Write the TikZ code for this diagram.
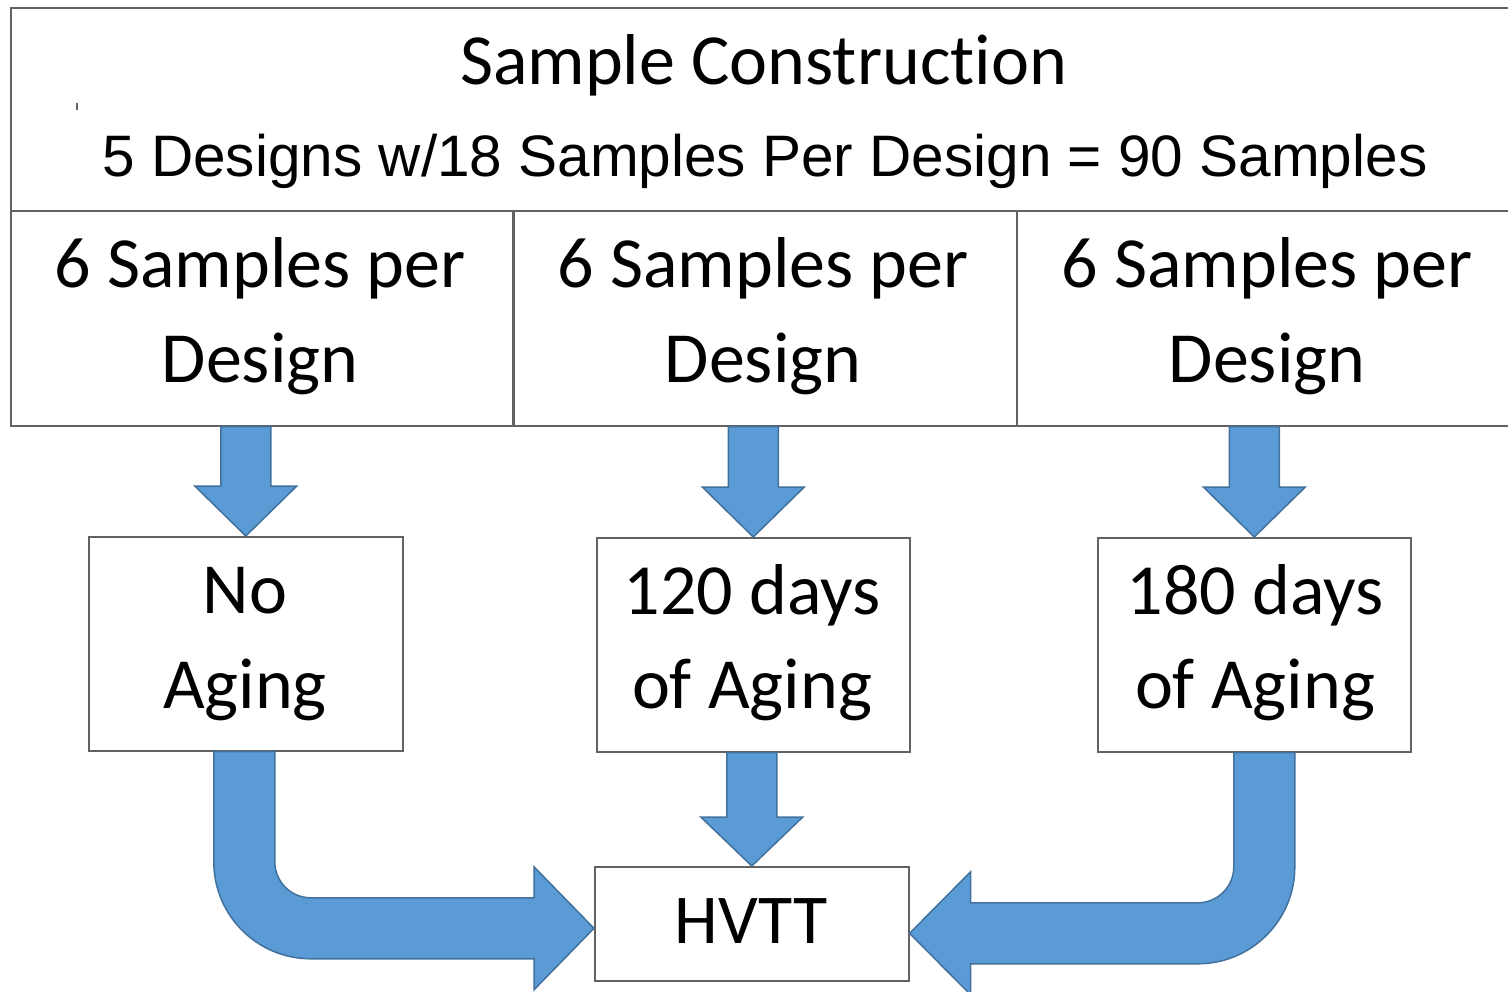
\documentclass[tikz,border=0pt]{standalone}
\usepackage{fontspec}
\setmainfont[Ligatures=NoCommon]{Carlito}
\newfontfamily\arialfont{Liberation Sans}
\usetikzlibrary{calc}
\definecolor{boxgray}{HTML}{626262}
\definecolor{arrowfill}{HTML}{5B9BD5}
\definecolor{arrowedge}{HTML}{41719C}
\tikzset{
  box/.style={draw=boxgray, line width=1.6pt, fill=white, inner sep=0pt, anchor=north west},
  lbl/.style={anchor=base, inner sep=0pt, font=\fontsize{72}{86}\selectfont},
  albl/.style={anchor=base, inner sep=0pt, font=\arialfont\fontsize{58.5}{70}\selectfont},
  blockarrow/.style={draw=arrowedge, fill=arrowfill, line width=1.5pt, line join=miter},
}
\newcommand{\blockdown}[3]{\path[blockarrow] let \p1=(#1), \p2=(#2) in
  (\x2-25pt,\y1) -- (\x2+25pt,\y1) -- (\x2+25pt,\y2+#3) -- (\x2+51pt,\y2+#3)
  -- (\x2,\y2) -- (\x2-51pt,\y2+#3) -- (\x2-25pt,\y2+#3) -- cycle;}
\begin{document}
\begin{tikzpicture}[x=1pt,y=-1pt]
\path[use as bounding box, fill=white] (0,0) rectangle (1508,992);

% boxes
\node[box, minimum width=1499pt, minimum height=203pt] (top) at (10,7) {};
\node[box, minimum width=502pt, minimum height=215pt] (r1) at (10,210) {};
\node[box, minimum width=503pt, minimum height=215pt] (r2) at (513,210) {};
\node[box, minimum width=493pt, minimum height=215pt] (r3) at (1016,210) {};
\node[box, minimum width=314pt, minimum height=214pt] (n1) at (88,536) {};
\node[box, minimum width=313pt, minimum height=214pt] (n2) at (596,537) {};
\node[box, minimum width=313pt, minimum height=214pt] (n3) at (1097,537) {};
\node[box, minimum width=314pt, minimum height=114pt] (h) at (594,866) {};

\draw[boxgray, line width=1.5pt] (77,103) -- (77,110);

% texts
\node[lbl] (t1) at (763.5,85) {Sample Construction};
\node[albl] (t2) at (765,177) {5 Designs w/18 Samples Per Design = 90 Samples};
\node[lbl] (a1) at (260,288) {6 Samples per};
\node[lbl] (a2) at (260,383) {Design};
\node[lbl] (b1) at (763,288) {6 Samples per};
\node[lbl] (b2) at (763,383) {Design};
\node[lbl] (c1) at (1267,288) {6 Samples per};
\node[lbl] (c2) at (1267,383) {Design};
\node[lbl] (d1) at (245,613) {No};
\node[lbl] (d2) at (245,708) {Aging};
\node[lbl] (e1) at (752,614) {120 days};
\node[lbl] (e2) at (752,708) {of Aging};
\node[lbl] (f1) at (1255,614) {180 days};
\node[lbl] (f2) at (1255,708) {of Aging};
\node[lbl, font=\fontsize{70}{84}\selectfont] (g1) at (751,943) {HVTT};

% straight block arrows
\blockdown{r1.south}{n1.north}{50pt}
\blockdown{r2.south}{n2.north}{50pt}
\blockdown{r3.south}{n3.north}{50pt}
\blockdown{n2.south}{h.north}{49pt}

% bent block arrows
\path[blockarrow] let \p1=(n1.south), \p2=(h.west), \p3=(\x1-1.5pt,\y2-4.5pt) in
  (\x3-30.5pt,\y1) -- (\x3-30.5pt,\y3+66.5pt)
  arc[start angle=180,end angle=270,radius=97pt]
  -- (\x2-60pt,\y3-30.5pt) -- (\x2-60pt,\y3-61.5pt) -- (\x2,\y3)
  -- (\x2-60pt,\y3+61.5pt) -- (\x2-60pt,\y3+30.5pt) -- (\x3+66.5pt,\y3+30.5pt)
  arc[start angle=270,end angle=180,radius=36pt]
  -- (\x3+30.5pt,\y1) -- cycle;
\path[blockarrow] let \p1=(n3.south), \p2=(h.east), \p3=(\x1+10pt,\y2-9.5pt) in
  (\x3+30.5pt,\y1) -- (\x3+30.5pt,\y3+66.5pt)
  arc[start angle=0,end angle=-90,radius=97pt]
  -- (\x2+61pt,\y3-30.5pt) -- (\x2+61pt,\y3-61.5pt) -- (\x2,\y3)
  -- (\x2+61pt,\y3+61.5pt) -- (\x2+61pt,\y3+30.5pt) -- (\x3-66.5pt,\y3+30.5pt)
  arc[start angle=-90,end angle=0,radius=36pt]
  -- (\x3-30.5pt,\y1) -- cycle;
\end{tikzpicture}
\end{document}
